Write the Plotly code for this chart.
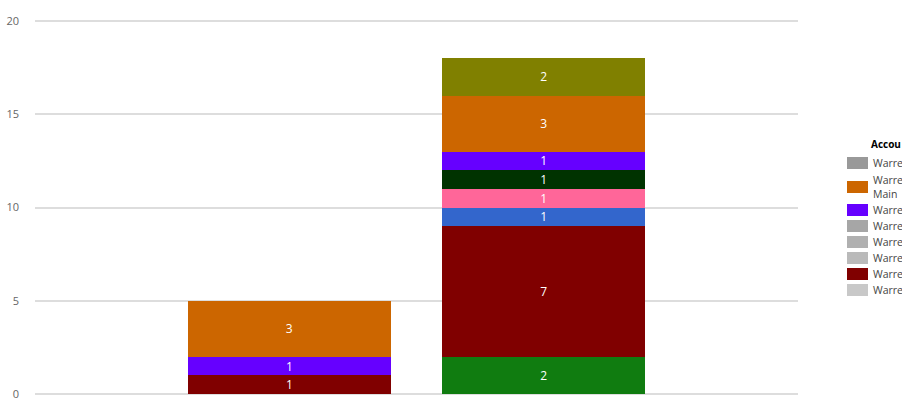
import plotly.graph_objects as go

categories = ["Group 1", "Group 2"]

series_names = ["Series A", "Series B", "Series C", "Series D",
                "Series E", "Series F", "Series G", "Series H"]
series_colors = ["#107c10", "#800000", "#3366cc", "#ff6699",
                 "#003300", "#6600ff", "#cc6600", "#808000"]
series_values = [
    [None, 2],
    [1, 7],
    [None, 1],
    [None, 1],
    [None, 1],
    [1, 1],
    [3, 3],
    [None, 2],
]

legend_title = "Accou"
legend_labels = ["Warre", "Warre<br>Main", "Warre", "Warre",
                 "Warre", "Warre", "Warre", "Warre"]
legend_colors = ["#999999", "#cc6600", "#6600ff", "#a6a6a6",
                 "#b0b0b0", "#bababa", "#800000", "#c8c8c8"]
y_ticks = [0, 5, 10, 15, 20]

W, H = 902, 400
PL, PR = 35, 798          # plot left/right (px)
Y20, Y0 = 21, 394         # px of y=20 and y=0
PAD = 3                   # px of padding so edge gridlines are drawn
PT, PB = Y20 - PAD, Y0 + PAD
unit = (Y0 - Y20) / 20.0
ylo, yhi = -PAD / unit, 20 + PAD / unit

fig = go.Figure()
for name, color, vals in zip(series_names, series_colors, series_values):
    fig.add_trace(go.Bar(
        x=categories, y=vals, name=name, marker_color=color,
        marker_line_width=0,
        text=[("" if v is None else str(v)) for v in vals],
        textposition="inside", insidetextanchor="middle", textangle=0,
        textfont=dict(color="white", size=12, family="Open Sans"),
        constraintext="none", showlegend=False,
    ))

def px_x(px):
    return (px - PL) / (PR - PL)

def px_y(py):
    return (PB - py) / (PB - PT)

shapes = []
annotations = [dict(
    text="<b>" + legend_title + "</b>", xref="paper", yref="paper",
    x=px_x(869), y=px_y(144), xanchor="left", yanchor="middle",
    showarrow=False, font=dict(size=10, color="#000000", family="Open Sans"),
)]
item_y = [163, 187, 210, 226, 242, 258, 274, 290]
for lab, col, yc in zip(legend_labels, legend_colors, item_y):
    shapes.append(dict(type="rect", xref="paper", yref="paper",
                       x0=px_x(847), x1=px_x(868),
                       y0=px_y(yc - 6), y1=px_y(yc + 6),
                       fillcolor=col, line_width=0))
    annotations.append(dict(
        text=lab, xref="paper", yref="paper",
        x=px_x(871), y=px_y(yc), xanchor="left", yanchor="middle",
        showarrow=False, align="left",
        font=dict(size=10.5, color="#444444", family="Open Sans"),
    ))

fig.update_layout(
    width=W, height=H,
    margin=dict(l=PL, r=W - PR, t=PT, b=H - PB, autoexpand=False),
    barmode="stack", bargap=0.2,
    plot_bgcolor="white", paper_bgcolor="white",
    font=dict(family="Open Sans", color="#666666", size=12),
    xaxis=dict(showticklabels=False, showgrid=False, zeroline=False,
               showline=False, ticks="", range=[-1, 2], automargin=False),
    yaxis=dict(range=[ylo, yhi], tickvals=y_ticks, showgrid=True,
               gridcolor="#dddddd", gridwidth=2, zeroline=False,
               showline=False, ticklabelstandoff=15, automargin=False,
               ticklabeloverflow="allow",
               tickfont=dict(size=11, color="#666666")),
    shapes=shapes, annotations=annotations,
    showlegend=False,
)

fig.write_html("out.html",
               config={"displayModeBar": False},
               post_script="document.body.style.margin='0';")
